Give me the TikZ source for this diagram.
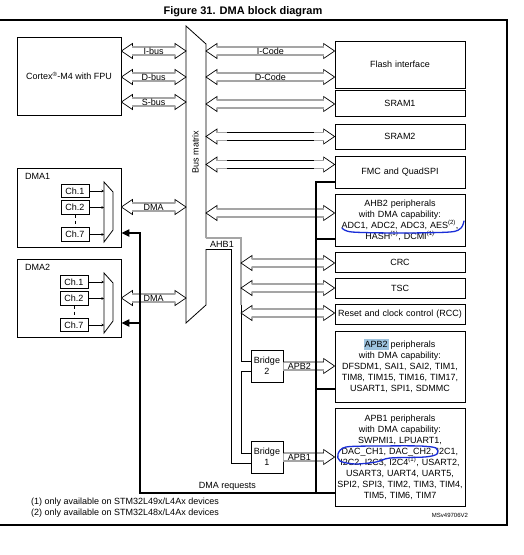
\documentclass[tikz,border=0pt]{standalone}
\usepackage{fontspec}
\setmainfont{Liberation Sans}
\usetikzlibrary{arrows.meta,calc}
\definecolor{pen}{RGB}{25,45,215}
\definecolor{hl}{RGB}{158,195,222}
\definecolor{busgrey}{RGB}{165,165,165}
\newcommand\darr[3]{%
  \path[fill=white,draw=black,line width=0.7pt,line join=miter] let \p1=#1,\p2=#2 in
    (\x1,\y1) -- (\x1+11pt,\y1+7.5pt) -- (\x1+11pt,\y1+4pt) -- (\x2-11pt,\y1+4pt) -- (\x2-11pt,\y1+7.5pt) -- (\x2,\y1) -- (\x2-11pt,\y1-7.5pt) -- (\x2-11pt,\y1-4pt) -- (\x1+11pt,\y1-4pt) -- (\x1+11pt,\y1-7.5pt) -- cycle;
  \draw[busgrey,line width=1.4pt] let \p1=#1,\p2=#2 in
    (\x1+11pt,\y1+4pt) -- ++(10pt,0) (\x1+11pt,\y1-4pt) -- ++(10pt,0)
    (\x2-11pt,\y1+4pt) -- ++(-10pt,0) (\x2-11pt,\y1-4pt) -- ++(-10pt,0);
  \path let \p1=#1,\p2=#2 in node[inner sep=0pt] at ({(\x1+\x2)/2},\y1) {#3};
}
\newcommand\sarr[3]{%
  \path[fill=white,draw=black,line width=0.7pt,line join=miter] let \p1=#1,\p2=#2 in
    (\x1,\y1+4pt) -- (\x2-11pt,\y1+4pt) -- (\x2-11pt,\y1+7.5pt) -- (\x2,\y1) -- (\x2-11pt,\y1-7.5pt) -- (\x2-11pt,\y1-4pt) -- (\x1,\y1-4pt);
  \draw[busgrey,line width=1.4pt] let \p1=#1,\p2=#2 in
    (\x1,\y1-4pt) -- (\x2-11pt,\y1-4pt);
  \path let \p1=#1,\p2=#2 in node[inner sep=0pt] at ({\x1+16pt},\y1) {#3};
}
\begin{document}
\begin{tikzpicture}[x=1pt,y=-1pt,
  every node/.style={font=\fontsize{9}{11}\selectfont},
  box/.style={draw,line width=0.8pt,inner sep=1pt,align=center},
  rbox/.style={box,minimum width=130,text width=126},
  chbox/.style={draw,line width=0.8pt,inner sep=0pt,minimum width=28,minimum height=13.5},
  charrow/.style={line width=0.7pt,-{Stealth[length=2.5pt,width=2.5pt]}},
  req/.style={line width=2.3pt,line join=miter},
  reqarrow/.style={req,-{Triangle[length=8pt,width=7pt]}}]
\useasboundingbox (0,0) rectangle (523,555);

% title and frame
\node[font=\bfseries\fontsize{11}{13}\selectfont] (title) at (243,12) {Figure 31. DMA block diagram};
\draw[line width=1.2pt] (0,20) -- (507,20) -- (507,525) -- (0,525);

% highlight behind APB2
\fill[hl] (364,338.5) rectangle (389,349.5);

% boxes
\node[box,minimum width=104,minimum height=78] (cortex) at (69,76) {Cortex\textsuperscript{\textregistered}-M4 with FPU};
\node[rbox,minimum height=47] (flash) at (400,64.5) {Flash interface};
\node[rbox,minimum height=25.5] (sram1) at (400,103.3) {SRAM1};
\node[rbox,minimum height=25] (sram2) at (400,136.5) {SRAM2};
\node[rbox,minimum height=32] (fmc) at (400,172) {FMC and QuadSPI};
\node[rbox,minimum height=52] (ahb2) at (400,220) {AHB2 peripherals\\with DMA capability:\\ADC1, ADC2, ADC3, AES\textsuperscript{(2)},\\HASH\textsuperscript{(1)}, DCMI\textsuperscript{(1)}};
\node[rbox,minimum height=20] (crc) at (400,262) {CRC};
\node[rbox,minimum height=20] (tsc) at (400,288) {TSC};
\node[rbox,minimum height=20] (rcc) at (400,314) {Reset and clock control (RCC)};
\node[rbox,minimum height=71] (apb2) at (400,366.5) {APB2 peripherals\\with DMA capability:\\DFSDM1, SAI1, SAI2, TIM1,\\TIM8, TIM15, TIM16, TIM17,\\USART1, SPI1, SDMMC};
\node[rbox,minimum height=98] (apb1) at (400,457) {APB1 peripherals\\with DMA capability:\\SWPMI1, LPUART1,\\DAC\_CH1, DAC\_CH2, I2C1,\\I2C2, I2C3, I2C4\textsuperscript{(1)}, USART2,\\USART3, UART4, UART5,\\SPI2, SPI3, TIM2, TIM3, TIM4,\\TIM5, TIM6, TIM7};
\node[box,minimum width=32,minimum height=32,inner sep=0pt] (bridge2) at (267,366) {Bridge\\2};
\node[box,minimum width=32,minimum height=32,inner sep=0pt] (bridge1) at (267,457) {Bridge\\1};

% DMA controllers
\node[box,minimum width=104,minimum height=79] (dma1) at (69,207.5) {};
\node[anchor=west,inner sep=0pt] (dma1lbl) at (25,176) {DMA1};
\node[chbox] (c11) at (75,191) {Ch.1};
\node[chbox] (c12) at (75,207.5) {Ch.2};
\node[chbox] (c17) at (75,234.5) {Ch.7};
\draw[dashed,line width=0.7pt] (c12.south) -- (c17.north);
\coordinate (m1l) at (104,0);
\draw[line width=0.8pt] (113,192) -- (104,182) -- (104,242) -- (113,230);
\draw[busgrey,line width=1.3pt] (113,192) -- (113,230);
\foreach \c in {c11,c12,c17} \draw[charrow] (\c.east) -- (\c.east -| m1l);

\node[box,minimum width=104,minimum height=78] (dma2) at (69,298) {};
\node[anchor=west,inner sep=0pt] (dma2lbl) at (25,267) {DMA2};
\node[chbox] (c21) at (74,282) {Ch.1};
\node[chbox] (c22) at (74,298.5) {Ch.2};
\node[chbox] (c27) at (74,325) {Ch.7};
\draw[dashed,line width=0.7pt] (c22.south) -- (c27.north);
\draw[line width=0.8pt] (113,283) -- (104,273) -- (104,333) -- (113,321);
\draw[busgrey,line width=1.3pt] (113,283) -- (113,321);
\foreach \c in {c21,c22,c27} \draw[charrow] (\c.east) -- (\c.east -| m1l);

% bus matrix
\coordinate (bmL) at (186,0);
\coordinate (bmR) at (206,0);
\coordinate (ahb) at (241,0);
\coordinate (ahbin) at (231,0);
\coordinate (rq) at (140,0);
\coordinate (rv) at (316,0);
\draw[line width=0.8pt,line join=miter] (bmR |- 0,238) -- (206,44) -- (186,26) -- (186,323) -- (206,305) -- (bmR |- 0,249);
\node[rotate=90] (bmlbl) at (195.5,152) {Bus matrix};

% AHB1 bus
\draw[busgrey,line width=1.1pt] (bmR |- 0,238) -- (ahb |- 0,238) -- (ahb |- 0,305);
\draw[line width=0.8pt] (ahb |- 0,305) -- (ahb |- 0,361) -- (bridge2.west |- 0,361);
\draw[line width=0.8pt] (bridge2.west |- 0,371) -- (ahb |- 0,371) -- (ahb |- 0,453) -- (bridge1.west |- 0,453);
\draw[line width=0.8pt] (bmR |- 0,249) -- (ahbin |- 0,249) -- (ahbin |- 0,463) -- (bridge1.west |- 0,463);
\node (ahb1lbl) at (222,244) {AHB1};

% fat bus arrows
\darr{(cortex.east |- 0,51)}{(bmL |- 0,51)}{I-bus}
\darr{(cortex.east |- 0,77)}{(bmL |- 0,77)}{D-bus}
\darr{(cortex.east |- 0,102)}{(bmL |- 0,102)}{S-bus}
\darr{(bmR |- 0,51)}{(flash.west |- 0,51)}{I-Code}
\darr{(bmR |- 0,77)}{(flash.west |- 0,77)}{D-Code}
\darr{(bmR |- 0,104)}{(sram1.west |- 0,104)}{}
\darr{(bmR |- sram2)}{(sram2.west)}{}
\darr{(bmR |- 0,164.5)}{(fmc.west |- 0,164.5)}{}
\darr{(bmR |- 0,213)}{(ahb2.west |- 0,213)}{}
\darr{(ahb |- 0,263)}{(crc.west |- 0,263)}{}
\darr{(ahb |- 0,288)}{(tsc.west |- 0,288)}{}
\darr{(ahb |- 0,313)}{(rcc.west |- 0,313)}{}
\darr{(dma1.east |- 0,207)}{(bmL |- 0,207)}{DMA}
\darr{(dma2.east |- 0,298)}{(bmL |- 0,298)}{DMA}
\sarr{(bridge2.east)}{(apb2.west |- bridge2)}{APB2}
\sarr{(bridge1.east)}{(apb1.west |- bridge1)}{APB1}

% DMA request lines
\draw[reqarrow] (apb1.west |- 0,493) -- (rq |- 0,493) -- (rq |- 0,233) -- (dma1.east |- 0,233);
\draw[reqarrow] (rq |- 0,323) -- (dma2.east |- 0,323);
\draw[req] (fmc.west |- 0,182) -- (rv |- 0,182) -- (rv |- 0,493);
\draw[req] (rv |- 0,239) -- (ahb2.west |- 0,239);
\draw[req] (rv |- 0,389) -- (apb2.west |- 0,389);
\node (reqlbl) at (227.5,486) {DMA requests};

% footnotes
\node[anchor=west,inner sep=0pt] (fn1) at (31,502) {(1) only available on STM32L49x/L4Ax devices};
\node[anchor=west,inner sep=0pt] (fn2) at (31,513) {(2) only available on STM32L48x/L4Ax devices};
\node[font=\fontsize{6}{7}\selectfont] (ms) at (450,515) {MSv49706V2};

% hand annotations
\draw[pen,line width=1.3pt,line cap=round] plot[smooth] coordinates {(342,228) (352,232) (400,233) (450,232) (461,228) (464,221)};
\draw[pen,line width=1.3pt] plot[smooth cycle] coordinates {(338,454) (346,447) (380,446) (420,446) (436,448) (437,454) (425,457) (390,458) (376,462) (355,464) (340,461)};
\end{tikzpicture}
\end{document}
